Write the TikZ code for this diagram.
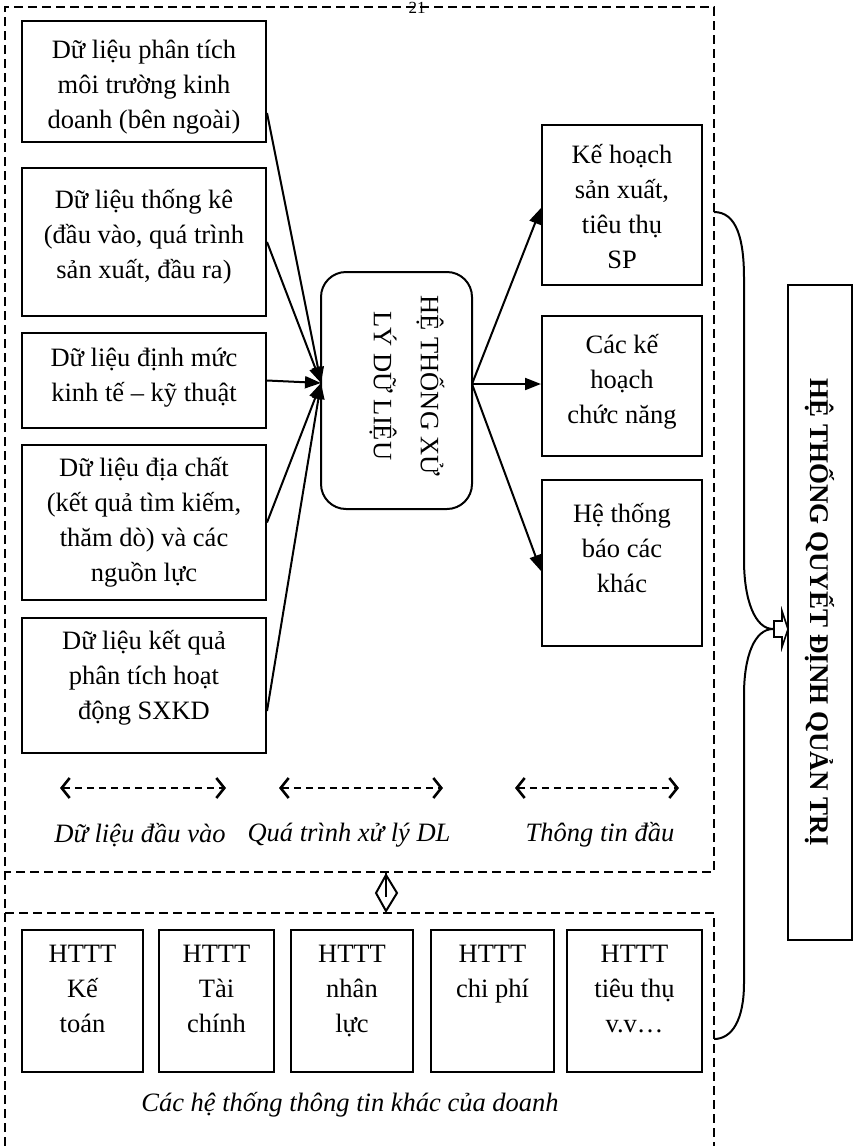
\documentclass[tikz,border=0pt]{standalone}
\usepackage{fontspec}
\setmainfont{Liberation Serif}
\usetikzlibrary{arrows.meta}
\begin{document}
\begin{tikzpicture}[x=1pt,y=-1pt,
  txt/.style={font=\fontsize{26.5}{35}\selectfont, align=center, inner sep=0pt},
  btxt/.style={txt, anchor=north, execute at begin node=\strut, execute at end node=\strut},
  itxt/.style={font=\fontsize{26.5}{35}\selectfont\itshape, inner sep=0pt},
  box/.style={draw, line width=2pt, inner sep=0pt},
  dashbox/.style={line width=1.6pt, dash pattern=on 9pt off 5pt},
  arr/.style={line width=2pt, -{Triangle[length=16pt,width=12pt]}},
  span/.style={line width=2.2pt, dash pattern=on 7pt off 5pt, {Straight Barb[length=8pt,width=20pt,line width=2.6pt]}-{Straight Barb[length=8pt,width=20pt,line width=2.6pt]}},
  curv/.style={line width=2pt}]
\useasboundingbox (0,0) rectangle (855,1146);
% dashed frames
\draw[dashbox] (5,1146) -- (5,7) -- (714,7) -- (714,872) -- (5,872);
\draw[dashbox] (5,913) -- (714,913) -- (714,1146);
\node[font=\fontsize{17}{20}\selectfont, anchor=base, inner sep=0pt] (pg) at (417,13.5) {21};
% left input boxes
\node[box, minimum width=244, minimum height=121] (L1) at (144,81.5) {};
\node[txt] (t1) at (144,87) {Dữ liệu phân tích\\môi trường kinh\\doanh (bên ngoài)};
\node[box, minimum width=244, minimum height=148] (L2) at (144,242) {};
\node[txt] (t2) at (144,237) {Dữ liệu thống kê\\(đầu vào, quá trình\\sản xuất, đầu ra)};
\node[box, minimum width=244, minimum height=95] (L3) at (144,380.5) {};
\node[txt] (t3) at (144,378) {Dữ liệu định mức\\kinh tế – kỹ thuật};
\node[box, minimum width=244, minimum height=155] (L4) at (144,522.5) {};
\node[txt] (t4) at (144,522) {Dữ liệu địa chất\\(kết quả tìm kiếm,\\thăm dò) và các\\nguồn lực};
\node[box, minimum width=244, minimum height=135] (L5) at (144,685.5) {};
\node[txt] (t5) at (144,678) {Dữ liệu kết quả\\phân tích hoạt\\động SXKD};
% centre box
\node[box, rounded corners=25pt, minimum width=151, minimum height=237] (CB) at (396.5,390.5) {};
\node[txt, font=\fontsize{26.5}{47}\selectfont, rotate=-90] (tc) at (407,386) {HỆ THỐNG XỬ\\LÝ DỮ LIỆU};
\coordinate (cin) at (321,383);
\coordinate (cout) at (472,384);
% right output boxes
\node[box, minimum width=160, minimum height=160] (R1) at (622,205) {};
\node[txt] (r1) at (622,207) {Kế hoạch\\sản xuất,\\tiêu thụ\\SP};
\node[box, minimum width=160, minimum height=140] (R2) at (622,386) {};
\node[txt] (r2) at (622,382) {Các kế\\hoạch\\chức năng};
\node[box, minimum width=160, minimum height=166] (R3) at (622,563) {};
\node[txt] (r3) at (622,548) {Hệ thống\\báo các\\khác};
% decision box
\node[box, minimum width=64, minimum height=655] (QD) at (820,612.5) {};
\node[txt, font=\fontsize{27}{35}\selectfont\bfseries, rotate=-90] (tq) at (820,612) {HỆ THỐNG QUYẾT ĐỊNH QUẢN TRỊ};
% arrows in
\draw[arr] ([yshift=-31.5pt]L1.east) -- (cin);
\draw[arr] (L2.east) -- (cin);
\draw[arr] (L3.east) -- (cin);
\draw[arr] (L4.east) -- (cin);
\draw[arr] ([yshift=-25.5pt]L5.east) -- (cin);
% arrows out
\draw[arr] (cout) -- ([yshift=-3pt]R1.west);
\draw[arr] (cout) -- (R2.west |- cout);
\draw[arr] (cout) -- ([yshift=-8pt]R3.west);
% span arrows and labels
\coordinate (s1a) at (60,788); \coordinate (s1b) at (226,788);
\coordinate (s2a) at (279,788); \coordinate (s2b) at (443,788);
\coordinate (s3a) at (515,788); \coordinate (s3b) at (679,788);
\draw[span] (s1a) -- (s1b);
\draw[span] (s2a) -- (s2b);
\draw[span] (s3a) -- (s3b);
\node[itxt] (l1) at (140,835) {Dữ liệu đầu vào};
\node[itxt] (l2) at (349,835) {Quá trình xử lý DL};
\node[itxt] (l3) at (600,835) {Thông tin đầu};
% link between frames
\coordinate (dT) at (386,873);
\coordinate (dC) at (386,897);
\draw[line width=2pt, line join=miter] (386,875) -- (397,893) -- (386,911) -- (376,893) -- cycle;
\draw[line width=2pt] (dT) -- (dC);
% bottom boxes
\node[box, minimum width=121, minimum height=142] (B1) at (82.5,1001) {};
\node[btxt] (b1) at (82.5,944.5) {HTTT\\Kế\\toán};
\node[box, minimum width=115, minimum height=142] (B2) at (216.5,1001) {};
\node[btxt] (b2) at (216.5,944.5) {HTTT\\Tài\\chính};
\node[box, minimum width=122, minimum height=142] (B3) at (352,1001) {};
\node[btxt] (b3) at (352,944.5) {HTTT\\nhân\\lực};
\node[box, minimum width=123, minimum height=142] (B4) at (492.5,1001) {};
\node[btxt] (b4) at (492.5,944.5) {HTTT\\chi phí};
\node[box, minimum width=135, minimum height=142] (B5) at (634.5,1001) {};
\node[btxt] (b5) at (634.5,944.5) {HTTT\\tiêu thụ\\v.v…};
\node[itxt] (l4) at (350,1105) {Các hệ thống thông tin khác của doanh};
% curved connectors to decision box
\coordinate (cA) at (714,212);
\coordinate (cM) at (773,629);
\coordinate (cB) at (714,1039);
\draw[curv] (cA) .. controls (737,212) and (744,240) .. (744,278) -- (744,560) .. controls (744,600) and (755,629) .. (cM);
\draw[curv] (cM) .. controls (755,629) and (744,655) .. (744,695) -- (744,983) .. controls (744,1020) and (732,1039) .. (cB);
\draw[line width=1.6pt, fill=white, line join=miter] (774,621) -- (782,621) -- (782,611) -- (788,629) -- (782,647) -- (782,637) -- (774,637) -- cycle;
\end{tikzpicture}
\end{document}
